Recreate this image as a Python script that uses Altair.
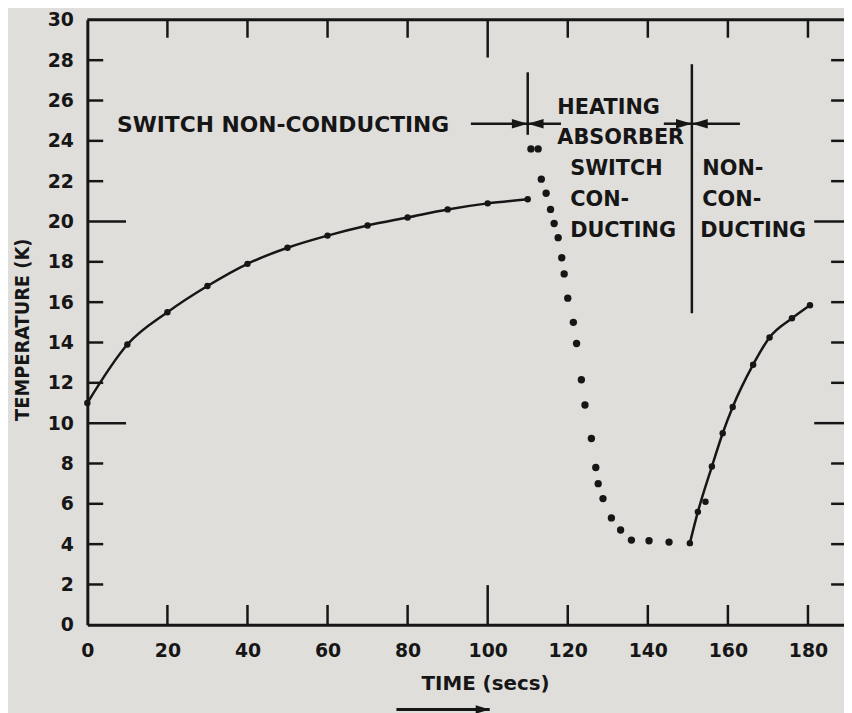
import altair as alt
import pandas as pd

# ---------------- data ----------------
# switch non-conducting, curve with points
time_a = [0, 10, 20, 30, 40, 50, 60, 70, 80, 90, 100, 110]
temp_a = [11.0, 13.9, 15.5, 16.8, 17.9, 18.7, 19.3, 19.8, 20.2, 20.6, 20.9, 21.1]

# heating absorber, switch conducting: dots only
time_b = [110.8, 112.6, 113.4, 114.6, 115.7, 116.6, 117.6, 118.5, 119.1, 120.0,
          121.4, 122.2, 123.4, 124.3, 125.9, 127.0, 127.6, 128.8, 130.9, 133.2,
          135.9, 140.3, 145.3]
temp_b = [23.6, 23.6, 22.1, 21.4, 20.6, 19.9, 19.2, 18.2, 17.4, 16.2,
          15.0, 13.95, 12.15, 10.9, 9.24, 7.8, 7.0, 6.26, 5.3, 4.7,
          4.2, 4.17, 4.1]

# non-conducting, curve with points (one point sits just off the drawn curve)
time_c = [150.5, 152.5, 154.4, 156.0, 158.7, 161.2, 166.3, 170.4, 176.0, 180.5]
temp_c = [4.05, 5.6, 6.1, 7.85, 9.5, 10.8, 12.9, 14.25, 15.2, 15.85]
on_curve_c = [True, True, False, True, True, True, True, True, True, True]

# axis labels and tick marks
x_labels = [0, 20, 40, 60, 80, 100, 120, 140, 160, 180]
y_labels = [0, 2, 4, 6, 8, 10, 12, 14, 16, 18, 20, 22, 24, 26, 28, 30]
x_ticks_short = [20, 40, 60, 80, 120, 140, 160, 180]
x_ticks_long = [100]
y_ticks_short = [2, 4, 6, 8, 12, 14, 16, 18, 22, 24, 26, 28]
y_ticks_long = [10, 20]
y_top = [30]

# annotations
phase1_text = ["SWITCH NON-CONDUCTING"]
phase1_x = [7.4]
phase1_y = [24.8]

note_text = ["HEATING", "ABSORBER", "SWITCH", "CON-", "DUCTING",
             "NON-", "CON-", "DUCTING"]
note_x = [117.4, 117.4, 120.6, 120.6, 120.6, 153.6, 153.6, 153.1]
note_y = [25.65, 24.15, 22.6, 21.05, 19.55, 22.6, 21.05, 19.55]

marker_x = [110, 151]
marker_lo = [24.3, 15.45]
marker_hi = [27.4, 27.8]

arrow_y = [24.85, 24.85, 24.85, 24.85]
seg_x1 = [95.8, 110, 144, 151]
seg_x2 = [110, 118.3, 151, 163]
head_right_x = [110, 151]
head_left_x = [110, 151]

time_arrow_x1 = [77.2]
time_arrow_x2 = [100.5]
time_arrow_y = [-4.2]

# ---------------- style ----------------
INK = "#161616"
BG = "#dfdedb"
FONT = "DejaVu Sans"
W, H = 763, 610
X_TITLE = "TIME (secs)"
Y_TITLE = "TEMPERATURE (K)"

xs = alt.Scale(domain=[0, 189], nice=False)
ys = alt.Scale(domain=[0, 30], nice=False)

x_axis = alt.Axis(
    values=x_labels, domain=True, domainColor=INK, domainWidth=3,
    ticks=False, tickSize=0, grid=False, labelFlush=False, labelOverlap=False,
    labelFont=FONT, labelFontSize=19, labelFontWeight="bold", labelColor=INK,
    labelPadding=17,
    titleFont=FONT, titleFontSize=20, titleFontWeight="bold", titleColor=INK,
    titleX=401, titleY=59, titleBaseline="middle", titleAlign="center",
)
y_axis = alt.Axis(
    values=y_labels, domain=True, domainColor=INK, domainWidth=3,
    ticks=False, tickSize=0, grid=False, labelOverlap=False,
    labelFont=FONT, labelFontSize=19, labelFontWeight="bold", labelColor=INK,
    labelPadding=14,
    titleFont="DejaVu Sans Condensed, DejaVu Sans",
    titleFontSize=20, titleFontWeight="bold", titleColor=INK,
    titleX=-65, titleY=312, titleAngle=270, titleBaseline="middle",
    titleAlign="center",
)


def X(field="t"):
    return alt.X(f"{field}:Q", scale=xs, axis=x_axis, title=X_TITLE)


def Y(field="T"):
    return alt.Y(f"{field}:Q", scale=ys, axis=y_axis, title=Y_TITLE)


df_a = pd.DataFrame({"t": time_a, "T": temp_a})
df_b = pd.DataFrame({"t": time_b, "T": temp_b})
df_c = pd.DataFrame({"t": time_c, "T": temp_c, "on": on_curve_c})

line_a = alt.Chart(df_a).mark_line(
    interpolate="monotone", color=INK, strokeWidth=2.5
).encode(x=X(), y=Y())
pts_a = alt.Chart(df_a).mark_circle(size=42, color=INK, opacity=1).encode(x=X(), y=Y())
pts_b = alt.Chart(df_b).mark_circle(size=55, color=INK, opacity=1).encode(x=X(), y=Y())
line_c = alt.Chart(df_c[df_c["on"]]).mark_line(
    interpolate="monotone", color=INK, strokeWidth=2.5
).encode(x=X(), y=Y())
pts_c = alt.Chart(df_c).mark_circle(size=42, color=INK, opacity=1).encode(x=X(), y=Y())


# tick marks (pointing inward)
def vticks(vals, x0, x1):
    return alt.Chart(pd.DataFrame({"v": vals})).mark_rule(
        color=INK, strokeWidth=2.5
    ).encode(y=Y("v"), x=alt.value(x0), x2=alt.value(x1))


def hticks(vals, y0, y1):
    return alt.Chart(pd.DataFrame({"v": vals})).mark_rule(
        color=INK, strokeWidth=2.5
    ).encode(x=X("v"), y=alt.value(y0), y2=alt.value(y1))


ticks = [
    vticks(y_ticks_short, 0, 16),
    vticks(y_ticks_long, 0, 39),
    vticks(y_ticks_short, W - 13, W),
    vticks(y_ticks_long, W - 30, W),
    hticks(x_ticks_short, H, H - 20),
    hticks(x_ticks_long, H, H - 40),
    hticks(x_ticks_short, 0, 18),
    hticks(x_ticks_long, 0, 38),
]

top_border = alt.Chart(pd.DataFrame({"v": y_top})).mark_rule(
    color=INK, strokeWidth=3
).encode(y=Y("v"), x=alt.value(0), x2=alt.value(W))

markers = alt.Chart(pd.DataFrame({"x": marker_x, "lo": marker_lo, "hi": marker_hi})).mark_rule(
    color=INK, strokeWidth=2.5
).encode(x=X("x"), y=Y("lo"), y2="hi:Q")

segs = alt.Chart(pd.DataFrame({"x1": seg_x1, "x2": seg_x2, "y": arrow_y})).mark_rule(
    color=INK, strokeWidth=2.5
).encode(x=X("x1"), x2="x2:Q", y=Y("y"))

RIGHT_HEAD = "M0,0L-2,-0.6L-2,0.6Z"
LEFT_HEAD = "M0,0L2,-0.6L2,0.6Z"

heads_r = alt.Chart(pd.DataFrame({"x": head_right_x, "y": arrow_y[:2]})).mark_point(
    shape=RIGHT_HEAD, filled=True, size=256, color=INK, opacity=1, strokeWidth=0
).encode(x=X("x"), y=Y("y"))
heads_l = alt.Chart(pd.DataFrame({"x": head_left_x, "y": arrow_y[:2]})).mark_point(
    shape=LEFT_HEAD, filled=True, size=256, color=INK, opacity=1, strokeWidth=0
).encode(x=X("x"), y=Y("y"))

phase1 = alt.Chart(pd.DataFrame({"x": phase1_x, "y": phase1_y, "label": phase1_text})).mark_text(
    align="left", baseline="middle", font=FONT, fontSize=22, fontWeight="bold", color=INK
).encode(x=X("x"), y=Y("y"), text="label:N")

notes = alt.Chart(pd.DataFrame({"x": note_x, "y": note_y, "label": note_text})).mark_text(
    align="left", baseline="middle", font=FONT, fontSize=21, fontWeight="bold", color=INK
).encode(x=X("x"), y=Y("y"), text="label:N")

tarrow_df = pd.DataFrame({"x1": time_arrow_x1, "x2": time_arrow_x2, "y": time_arrow_y})
tarrow_line = alt.Chart(tarrow_df).mark_rule(color=INK, strokeWidth=3).encode(
    x=X("x1"), x2="x2:Q", y=Y("y")
)
tarrow_head = alt.Chart(tarrow_df).mark_point(
    shape=RIGHT_HEAD, filled=True, size=200, color=INK, opacity=1, strokeWidth=0
).encode(x=X("x2"), y=Y("y"))

chart = alt.layer(
    line_a, *ticks, top_border, markers, segs, heads_r, heads_l, phase1, notes,
    tarrow_line, tarrow_head, pts_a, pts_b, line_c, pts_c,
).properties(
    width=W, height=H, background=BG,
    padding={"left": 80, "top": 9, "right": 0, "bottom": 88},
    autosize=alt.AutoSizeParams(type="none"),
).configure_view(stroke=None)

chart.save("out.html", embed_options={"renderer": "svg", "actions": False})
